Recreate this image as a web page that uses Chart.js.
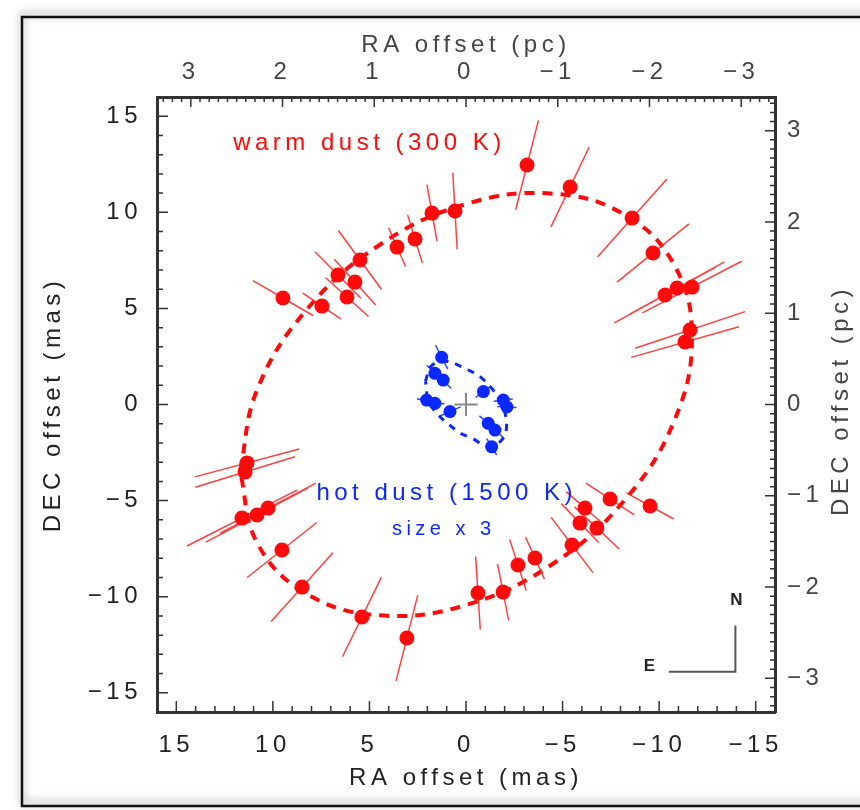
<!DOCTYPE html>
<html>
<head>
<meta charset="utf-8">
<script src="https://cdn.jsdelivr.net/npm/chart.js@4.4.1/dist/chart.umd.min.js"></script>
<style>
  body { margin: 0; background: #fff; }
  canvas { display: block; }
</style>
</head>
<body>
<canvas id="ringChart" width="860" height="810"></canvas>
<script>
// warm dust (300 K) positions in mas, with radial error half-lengths
const warmX = [-3.16, -5.39, -8.60, -9.68, -10.31, -10.93, -11.70, -11.60, -11.34,
  0.57, 1.76, 2.64, 3.57, 5.49, 6.63, 5.75, 6.16, 9.48, 7.46,
  11.34, 11.44, 11.60, 10.82, 10.25, 9.53, 8.49, 5.39, 3.06,
  -0.62, -1.92, -2.69, -3.57, -5.49, -5.90, -6.16, -6.78, -7.46, -9.53];
const warmY = [12.46, 11.32, 9.70, 7.88, 5.70, 6.06, 6.11, 3.88, 3.25,
  10.07, 9.96, 8.61, 8.19, 7.52, 6.74, 6.37, 5.59, 5.54, 5.12,
  -3.04, -3.51, -5.91, -5.75, -5.39, -7.57, -9.50, -11.06, -12.15,
  -9.81, -9.76, -8.35, -7.99, -7.31, -6.17, -5.39, -6.43, -4.92, -5.28];
const warmErr = [2.4, 2.3, 2.7, 2.4, 3.0, 2.8, 2.9, 3.0, 2.9,
  2.0, 1.5, 1.3, 1.1, 1.9, 1.7, 1.6, 1.5, 1.8, 1.2,
  2.8, 2.7, 3.2, 3.0, 2.8, 2.3, 2.4, 2.3, 2.3,
  1.9, 1.5, 1.4, 1.2, 1.8, 1.4, 1.3, 1.6, 1.5, 1.4];

// hot dust (1500 K) positions, shown enlarged x3
const hotX = [1.26, 1.61, 1.18, 2.04, 1.61, 0.83, -0.90, -1.93, -2.12, -1.15, -1.50, -1.33];
const hotY = [2.46, 1.62, 1.27, 0.23, 0.06, -0.37, 0.67, 0.23, -0.13, -0.98, -1.33, -2.20];
const hotErr = [0.7, 0.6, 0.6, 0.5, 0.5, 0.6, 0.5, 0.5, 0.5, 0.6, 0.6, 0.5];

// model rings
const warmRingX = [11.70, 10.81, 8.27, 4.48, 0.00, -4.48, -8.27, -10.81, -11.70, -10.81, -8.27, -4.48, 0.00, 4.48, 8.27, 10.81, 11.70];
const warmRingY = [-3.48, 0.78, 4.91, 8.30, 10.43, 10.97, 9.84, 7.21, 3.48, -0.78, -4.91, -8.30, -10.43, -10.97, -9.84, -7.21, -3.48];
const hotRingX = [2.10, 1.80, 1.05, 0.00, -0.90, -1.80, -2.10, -1.80, -1.05, -0.40, 0.50, 1.85, 2.10];
const hotRingY = [1.20, 2.00, 2.25, 1.85, 1.30, 0.10, -1.10, -1.90, -2.15, -1.80, -1.35, 0.00, 1.20];

const masTicks = [-15, -10, -5, 0, 5, 10, 15];
const pcTicks = [-3, -2, -1, 0, 1, 2, 3];
const MAS_PER_PC = 4.75;
const LIM = 16;

const FONT = 'Liberation Sans';
const SPACING = '4.5px';
const RED = '#ff0a0a';
const BLUE = '#0a28ff';

function pts(xs, ys) {
  return xs.map((x, i) => ({ x: x, y: ys[i] }));
}

// radial error segments, separated by gaps
function errSegments(xs, ys, errs) {
  const out = [];
  xs.forEach((x, i) => {
    const y = ys[i];
    const r = Math.hypot(x, y);
    const ux = x / r, uy = y / r;
    out.push({ x: x - errs[i] * ux, y: y - errs[i] * uy });
    out.push({ x: x + errs[i] * ux, y: y + errs[i] * uy });
    out.push({ x: null, y: null });
  });
  return out;
}

function fmt(v) {
  return v < 0 ? '\u2212' + Math.abs(v) : String(v);
}

const tickFont = { family: FONT, size: 24, lineHeight: 1 };

const decorations = {
  id: 'decorations',
  beforeUpdate(chart) {
    chart.ctx.letterSpacing = SPACING;
  },
  beforeDraw(chart) {
    const ctx = chart.ctx;
    ctx.letterSpacing = SPACING;
    ctx.save();
    ctx.fillStyle = '#fff';
    ctx.fillRect(0, 0, chart.width, chart.height);
    ctx.shadowColor = 'rgba(0,0,0,0.45)';
    ctx.shadowBlur = 10;
    ctx.shadowOffsetY = -3;
    ctx.strokeStyle = '#111';
    ctx.lineWidth = 2.5;
    ctx.strokeRect(22, 17, 870, 789);
    ctx.restore();
  },
  afterDatasetsDraw(chart) {
    const ctx = chart.ctx;
    const { x, y, x2, y2 } = chart.scales;
    const a = chart.chartArea;
    ctx.save();
    ctx.strokeStyle = '#333';
    ctx.lineWidth = 1.5;
    ctx.beginPath();
    for (let v = -15; v <= 15; v++) {
      const len = v % 5 === 0 ? 11 : 6;
      const px = x.getPixelForValue(v);
      ctx.moveTo(px, a.bottom); ctx.lineTo(px, a.bottom - len);
      const py = y.getPixelForValue(v);
      ctx.moveTo(a.left, py); ctx.lineTo(a.left + len, py);
    }
    for (let k = -33; k <= 33; k++) {
      const v = k / 10;
      const len = k % 10 === 0 ? 10 : 5;
      const px = x2.getPixelForValue(v);
      ctx.moveTo(px, a.top); ctx.lineTo(px, a.top + len);
      const py = y2.getPixelForValue(v);
      ctx.moveTo(a.right, py); ctx.lineTo(a.right - len, py);
    }
    ctx.stroke();

    // centre marker
    ctx.strokeStyle = '#888';
    ctx.lineWidth = 2;
    ctx.beginPath();
    ctx.moveTo(x.getPixelForValue(0.6), y.getPixelForValue(0));
    ctx.lineTo(x.getPixelForValue(-0.6), y.getPixelForValue(0));
    ctx.moveTo(x.getPixelForValue(0), y.getPixelForValue(0.6));
    ctx.lineTo(x.getPixelForValue(0), y.getPixelForValue(-0.6));
    ctx.stroke();

    // compass
    ctx.strokeStyle = '#555';
    ctx.lineWidth = 2;
    ctx.beginPath();
    ctx.moveTo(x.getPixelForValue(-10.5), y.getPixelForValue(-13.9));
    ctx.lineTo(x.getPixelForValue(-13.95), y.getPixelForValue(-13.9));
    ctx.lineTo(x.getPixelForValue(-13.95), y.getPixelForValue(-11.5));
    ctx.stroke();

    ctx.letterSpacing = SPACING;
    ctx.textAlign = 'center';
    ctx.textBaseline = 'middle';
    ctx.font = '24px "' + FONT + '"';
    ctx.fillStyle = RED;
    ctx.fillText('warm dust (300 K)', x.getPixelForValue(5.0), y.getPixelForValue(13.6));
    ctx.fillStyle = BLUE;
    ctx.fillText('hot dust (1500 K)', x.getPixelForValue(1.0), y.getPixelForValue(-4.6));
    ctx.font = '20px "' + FONT + '"';
    ctx.fillText('size x 3', x.getPixelForValue(1.15), y.getPixelForValue(-6.5));
    ctx.fillStyle = '#222';
    ctx.letterSpacing = '0px';
    ctx.font = 'bold 17px "' + FONT + '"';
    ctx.fillText('N', x.getPixelForValue(-14.0), y.getPixelForValue(-10.2));
    ctx.fillText('E', x.getPixelForValue(-9.5), y.getPixelForValue(-13.6));
    ctx.restore();
  },
  afterDraw(chart) {
    const ctx = chart.ctx;
    const a = chart.chartArea;
    ctx.save();
    ctx.letterSpacing = SPACING;
    ctx.font = '24px "' + FONT + '"';
    ctx.fillStyle = '#444';
    ctx.textAlign = 'center';
    ctx.textBaseline = 'middle';
    ctx.translate(chart.width - 19, (a.top + a.bottom) / 2 - 4);
    ctx.rotate(-Math.PI / 2);
    ctx.fillText('DEC offset (pc)', 0, 0);
    ctx.restore();
  }
};

const axisBorder = { display: true, color: '#333', width: 3 };
const noGrid = { display: true, drawOnChartArea: false, drawTicks: false };

new Chart(document.getElementById('ringChart'), {
  type: 'scatter',
  data: {
    datasets: [
      {
        label: 'warm dust',
        data: pts(warmX, warmY),
        backgroundColor: RED,
        borderWidth: 0,
        pointRadius: 7.5,
        order: 0
      },
      {
        label: 'hot dust',
        data: pts(hotX, hotY),
        backgroundColor: BLUE,
        borderWidth: 0,
        pointRadius: 6.5,
        order: 0
      },
      {
        label: 'warm errors',
        data: errSegments(warmX, warmY, warmErr),
        showLine: true,
        spanGaps: false,
        borderColor: 'rgba(255,30,30,0.85)',
        borderWidth: 1.5,
        pointRadius: 0,
        order: 1
      },
      {
        label: 'hot errors',
        data: errSegments(hotX, hotY, hotErr),
        showLine: true,
        spanGaps: false,
        borderColor: 'rgba(10,40,255,0.85)',
        borderWidth: 1.5,
        pointRadius: 0,
        order: 1
      },
      {
        label: 'warm ring',
        data: pts(warmRingX, warmRingY),
        showLine: true,
        tension: 0.4,
        borderColor: RED,
        borderWidth: 4,
        borderDash: [10, 8],
        pointRadius: 0,
        order: 2
      },
      {
        label: 'hot ring',
        data: pts(hotRingX, hotRingY),
        showLine: true,
        tension: 0.4,
        borderColor: BLUE,
        borderWidth: 3,
        borderDash: [7, 7],
        pointRadius: 0,
        order: 2
      }
    ]
  },
  options: {
    responsive: false,
    animation: false,
    devicePixelRatio: 1,
    events: [],
    layout: { padding: 0 },
    plugins: { legend: { display: false }, tooltip: { enabled: false } },
    scales: {
      x: {
        type: 'linear', position: 'bottom', reverse: true, min: -LIM, max: LIM,
        afterBuildTicks: s => { s.ticks = masTicks.map(v => ({ value: v })); },
        afterFit: s => { s.height = 98; },
        ticks: { font: tickFont, color: '#222', padding: 21, maxRotation: 0, callback: fmt },
        grid: noGrid, border: axisBorder,
        title: { display: true, text: 'RA offset (mas)', font: tickFont, color: '#222', padding: { top: 0, bottom: 20 } }
      },
      y: {
        type: 'linear', position: 'left', min: -LIM, max: LIM,
        afterBuildTicks: s => { s.ticks = masTicks.map(v => ({ value: v })); },
        afterFit: s => { s.width = 157; },
        ticks: { font: tickFont, color: '#222', padding: 15, callback: fmt },
        grid: noGrid, border: axisBorder,
        title: { display: true, text: 'DEC offset (mas)', font: tickFont, color: '#222', padding: { top: 41, bottom: 0 } }
      },
      x2: {
        type: 'linear', position: 'top', reverse: true, min: -LIM / MAS_PER_PC, max: LIM / MAS_PER_PC,
        afterBuildTicks: s => { s.ticks = pcTicks.map(v => ({ value: v })); },
        afterFit: s => { s.height = 97; },
        ticks: { font: tickFont, color: '#444', padding: 13, maxRotation: 0, callback: fmt },
        grid: noGrid, border: axisBorder,
        title: { display: true, text: 'RA offset (pc)', font: tickFont, color: '#444', padding: { top: 33, bottom: 0 } }
      },
      y2: {
        type: 'linear', position: 'right', min: -LIM / MAS_PER_PC, max: LIM / MAS_PER_PC,
        afterBuildTicks: s => { s.ticks = pcTicks.map(v => ({ value: v })); },
        afterFit: s => { s.width = 85; },
        ticks: { font: tickFont, color: '#444', padding: 12, callback: fmt },
        grid: noGrid, border: axisBorder
      }
    }
  },
  plugins: [decorations]
});
</script>
</body>
</html>
